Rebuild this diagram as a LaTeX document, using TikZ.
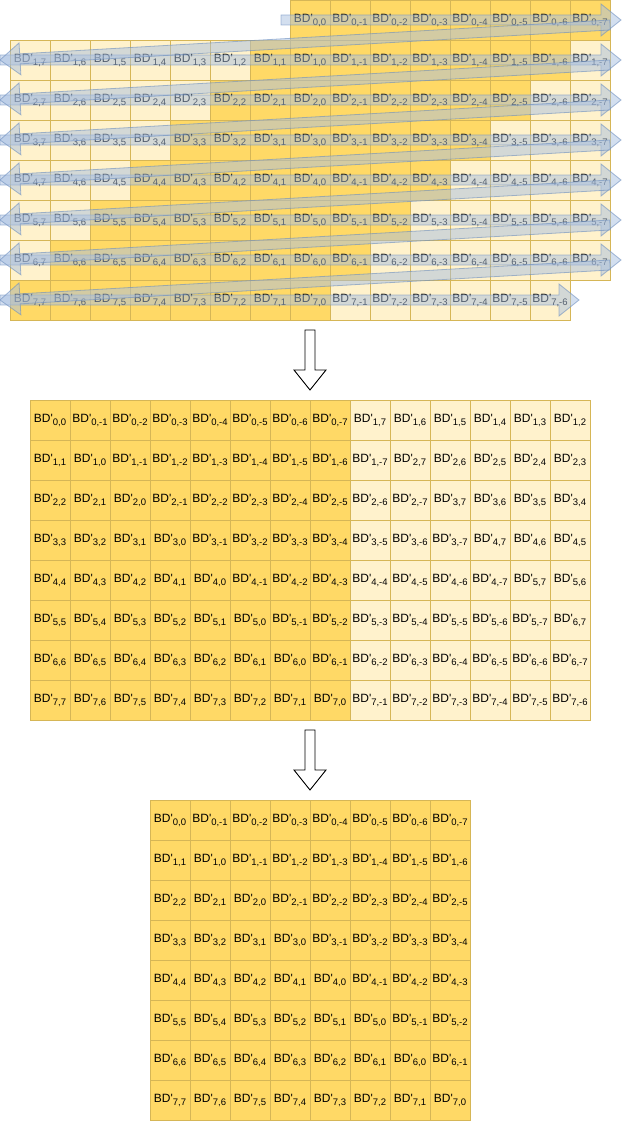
\documentclass[tikz,border=0pt]{standalone}
\usepackage{fontspec}
\newfontfamily\cellfont{Liberation Sans}[Ligatures=TeXOff]
\usetikzlibrary{calc}
\definecolor{darkcell}{HTML}{FFD966}
\definecolor{lightcell}{HTML}{FFF2CC}
\definecolor{cellline}{HTML}{D6B656}
\definecolor{flexfill}{HTML}{A8BFE0}
\definecolor{flexline}{HTML}{6C8EBF}
\tikzset{cell/.style={draw=cellline,line width=0.8pt,minimum width=40pt,minimum height=40pt,inner sep=0pt,font=\cellfont\fontsize{12}{14}\selectfont}}
\tikzset{flex/.style={fill=flexfill,draw=flexline,fill opacity=0.5,draw opacity=0.6,line width=0.8pt}}
\tikzset{blockarrow/.style={fill=white,draw=black,line width=0.9pt}}
\newcommand{\bd}[2]{BD'\raisebox{-3pt}{\fontsize{9.5}{10}\selectfont#1,#2}}
% wide arrow from #2 to #3
\newcommand{\flexarrow}[3]{%
  \coordinate (hb) at ($(#3)!20pt!(#2)$);
  \draw[#1] ($(#2)!5pt!90:(#3)$) -- ($(hb)!5pt!90:(#3)$) -- ($(hb)!16pt!90:(#3)$) -- (#3)
    -- ($(hb)!16pt!-90:(#3)$) -- ($(hb)!5pt!-90:(#3)$) -- ($(#2)!5pt!-90:(#3)$) -- cycle;
}

\begin{document}
\begin{tikzpicture}[x=1pt,y=-1pt]
\useasboundingbox (0,0) rectangle (621,1121);

% skewed input
\foreach \k in {0,...,7} {
  \foreach \j in {7,6,...,-7} {
    \pgfmathtruncatemacro{\show}{(\k>0 || \j<1) && (\k<7 || \j>-7)}
    \pgfmathtruncatemacro{\dark}{(\j<=\k) && (\j>=\k-7)}
    \ifnum\dark=1 \def\cellcol{darkcell}\else\def\cellcol{lightcell}\fi
    \ifnum\show=1
      \node[cell,fill=\cellcol] (t-\k-\j) at ({30+(7-\j)*40},{20+\k*40}) {\bd{\k}{\j}};
    \fi
  }
}

% reading order
\coordinate (rs0) at (281,20);
\coordinate (re0) at (621,20);
\foreach \k in {1,...,6} {
  \coordinate (rs\k) at (0,{20+\k*40});
  \coordinate (re\k) at (621,{20+\k*40});
}
\coordinate (rs7) at (0,300);
\coordinate (re7) at (579,300);
\foreach \k in {0,...,6} {
  \pgfmathtruncatemacro{\nxt}{\k+1}
  \coordinate (ds\k) at (610,{25+\k*40});
  \coordinate (de\k) at (0,{20+\nxt*40});
}
\foreach \k in {0,...,7} {
  \flexarrow{flex}{rs\k}{re\k}
}
\foreach \k in {0,...,6} {
  \flexarrow{flex}{ds\k}{de\k}
}

\coordinate (dn1s) at (310,330);
\coordinate (dn1e) at (310,390);
\flexarrow{blockarrow}{dn1s}{dn1e}

% packed middle
\foreach \row in {0,...,7} {
  \foreach \col in {0,...,7} {
    \pgfmathtruncatemacro{\j}{\row-\col}
    \node[cell,fill=darkcell] (m-\row-\col) at ({50+\col*40},{420+\row*40}) {\bd{\row}{\j}};
  }
}
\foreach \k/\j [count=\n from 0] in {1/7,1/6,1/5,1/4,1/3,1/2,
    1/-7,2/7,2/6,2/5,2/4,2/3, 2/-6,2/-7,3/7,3/6,3/5,3/4,
    3/-5,3/-6,3/-7,4/7,4/6,4/5, 4/-4,4/-5,4/-6,4/-7,5/7,5/6,
    5/-3,5/-4,5/-5,5/-6,5/-7,6/7, 6/-2,6/-3,6/-4,6/-5,6/-6,6/-7,
    7/-1,7/-2,7/-3,7/-4,7/-5,7/-6} {
  \pgfmathtruncatemacro{\row}{div(\n,6)}
  \pgfmathtruncatemacro{\col}{8+mod(\n,6)}
  \node[cell,fill=lightcell] (m-\row-\col) at ({50+\col*40},{420+\row*40}) {\bd{\k}{\j}};
}

\coordinate (dn2s) at (310,730);
\coordinate (dn2e) at (310,790);
\flexarrow{blockarrow}{dn2s}{dn2e}

% result
\foreach \row in {0,...,7} {
  \foreach \col in {0,...,7} {
    \pgfmathtruncatemacro{\j}{\row-\col}
    \node[cell,fill=darkcell] (b-\row-\col) at ({170+\col*40},{820+\row*40}) {\bd{\row}{\j}};
  }
}
\end{tikzpicture}
\end{document}
